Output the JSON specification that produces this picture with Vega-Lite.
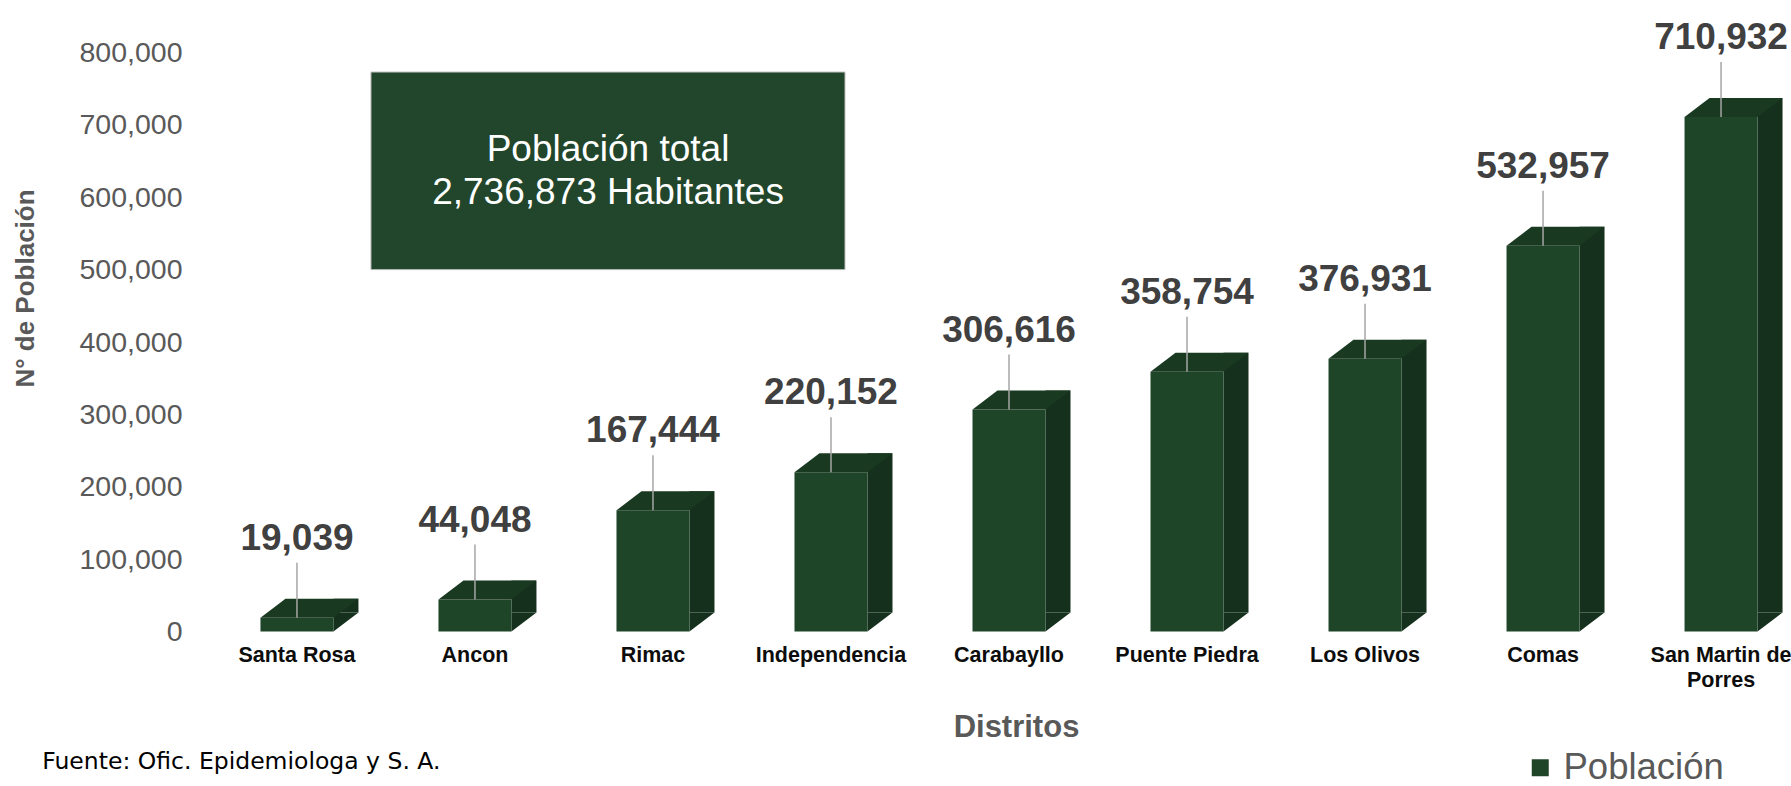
{
  "$schema": "https://vega.github.io/schema/vega-lite/v6.json",
  "autosize": {"type": "none"},
  "width": 1564,
  "height": 579,
  "padding": {"left": 227, "top": 52.5, "right": 0, "bottom": 154.5},
  "background": "white",
  "config": {
    "view": {"stroke": null},
    "font": "Liberation Sans"
  },
  "datasets": {
    "pob": [
      {"distrito": "Santa Rosa", "poblacion": 19039},
      {"distrito": "Ancon", "poblacion": 44048},
      {"distrito": "Rimac", "poblacion": 167444},
      {"distrito": "Independencia", "poblacion": 220152},
      {"distrito": "Carabayllo", "poblacion": 306616},
      {"distrito": "Puente Piedra", "poblacion": 358754},
      {"distrito": "Los Olivos", "poblacion": 376931},
      {"distrito": "Comas", "poblacion": 532957},
      {"distrito": "San Martin de Porres", "poblacion": 710932}
    ],
    "caja": [
      {"texto": ["Población total", "2,736,873 Habitantes"]}
    ],
    "fuente": [
      {"texto": "Fuente: Ofic. Epidemiologa y S. A."}
    ]
  },
  "layer": [
    {
      "data": {"name": "pob"},
      "encoding": {
        "x": {
          "field": "distrito",
          "type": "nominal",
          "sort": null,
          "scale": {"paddingInner": 0.59, "paddingOuter": 0.188},
          "axis": {
            "title": "Distritos",
            "titleFontSize": 31,
            "titleFontWeight": "bold",
            "titleColor": "#595959",
            "titleX": 789,
            "titleY": 96,
            "titleBaseline": "middle",
            "domain": false,
            "ticks": false,
            "labelAngle": 0,
            "labelFontSize": 21.5,
            "labelFontWeight": "bold",
            "labelColor": "#0d0d0d",
            "labelPadding": 13,
            "labelLimit": 0,
            "labelLineHeight": 25,
            "labelExpr": "datum.value == 'San Martin de Porres' ? ['San Martin de', 'Porres'] : datum.value"
          }
        },
        "y": {
          "field": "poblacion",
          "type": "quantitative",
          "scale": {"domain": [0, 800000], "nice": false},
          "axis": {
            "title": "N° de Población",
            "titleFontSize": 26,
            "titleFontWeight": "bold",
            "titleColor": "#595959",
            "titleAngle": -90,
            "titleX": -202,
            "titleY": 235.5,
            "titleAlign": "center",
            "titleBaseline": "middle",
            "values": [0, 100000, 200000, 300000, 400000, 500000, 600000, 700000, 800000],
            "format": ",.0f",
            "grid": false,
            "domain": false,
            "ticks": false,
            "labelFontSize": 28.5,
            "labelColor": "#595959",
            "labelPadding": 45
          }
        }
      },
      "layer": [
        {
          "mark": {"type": "bar", "width": 25, "xOffset": 49, "yOffset": -19, "y2Offset": -19, "color": "#15301d"},
          "encoding": {"y2": {"datum": 0}}
        },
        {
          "mark": {"type": "point", "shape": "M3.65,0 L6.15,-1.9 L3.65,-1.9 Z", "size": 400, "filled": true, "opacity": 1, "strokeWidth": 0, "color": "#15301d"},
          "encoding": {"y": {"datum": 0}}
        },
        {
          "mark": {"type": "bar", "width": 73},
          "encoding": {
            "y2": {"datum": 0},
            "color": {
              "datum": "Población",
              "type": "nominal",
              "scale": {"range": ["#1f4529"]},
              "legend": {
                "title": null,
                "orient": "none",
                "legendX": 1295,
                "legendY": 697,
                "symbolType": "square",
                "symbolSize": 289,
                "symbolStrokeWidth": 0,
                "labelFontSize": 36.5,
                "labelColor": "#595959",
                "labelOffset": 5,
                "labelLimit": 0,
                "padding": 0
              }
            }
          }
        },
        {
          "mark": {"type": "point", "shape": "M-3.65,0 L3.65,0 L6.15,-1.9 L-1.15,-1.9 Z", "size": 400, "filled": true, "opacity": 1, "strokeWidth": 0, "color": "#1a3921"}
        },
        {
          "mark": {"type": "rule", "color": "#a6a6a6", "strokeWidth": 1.5, "y2Offset": -55},
          "encoding": {"y2": {"field": "poblacion"}}
        },
        {
          "mark": {"type": "text", "dy": -79, "baseline": "middle", "align": "center", "fontSize": 37, "fontWeight": "bold", "color": "#404040"},
          "encoding": {"text": {"field": "poblacion", "type": "quantitative", "format": ",.0f"}}
        }
      ]
    },
    {
      "data": {"name": "caja"},
      "mark": {"type": "rect", "color": "#21462b", "stroke": "#bfbfbf", "strokeWidth": 1},
      "encoding": {
        "x": {"datum": "Ancon", "type": "nominal", "bandPosition": -0.925},
        "x2": {"datum": "Independencia", "bandPosition": 0.692},
        "y": {"datum": 500000, "type": "quantitative"},
        "y2": {"datum": 773000}
      }
    },
    {
      "data": {"name": "caja"},
      "mark": {"type": "text", "color": "#ffffff", "fontSize": 37, "lineHeight": 43, "baseline": "middle", "align": "center"},
      "encoding": {
        "x": {"datum": "Rimac", "type": "nominal", "bandPosition": -0.116},
        "y": {"datum": 665000, "type": "quantitative"},
        "text": {"field": "texto"}
      }
    },
    {
      "data": {"name": "fuente"},
      "mark": {"type": "text", "color": "#000000", "fontSize": 23.5, "font": "DejaVu Sans", "baseline": "middle", "align": "left"},
      "encoding": {
        "x": {"datum": "Santa Rosa", "type": "nominal", "bandPosition": -2.99},
        "y": {"datum": -180000, "type": "quantitative"},
        "text": {"field": "texto"}
      }
    }
  ]
}
